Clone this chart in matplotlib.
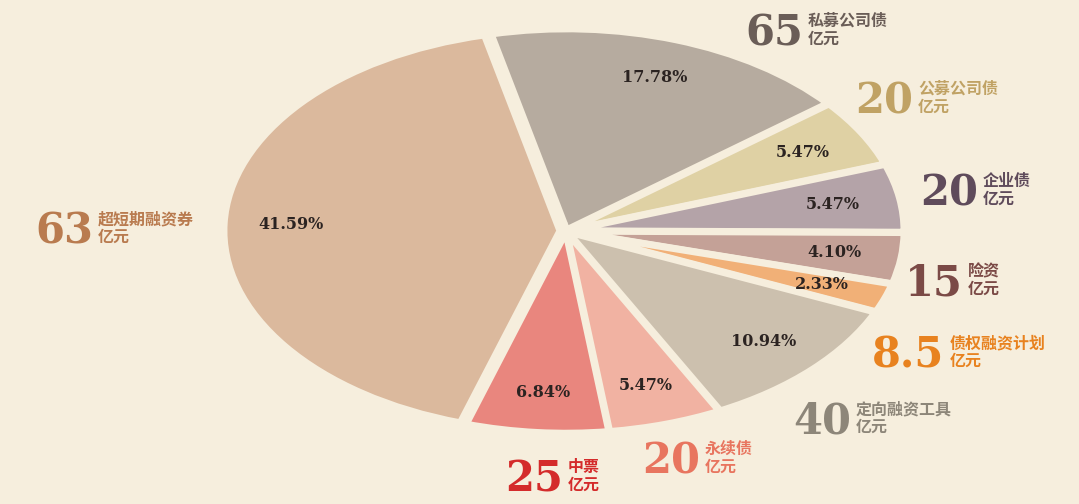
import numpy as np
import matplotlib.pyplot as plt

# slice shares (%) clockwise from the top, and the labels printed next to them
names = ["私募公司债", "公募公司债", "企业债", "险资", "债权融资计划",
         "定向融资工具", "永续债", "中票", "超短期融资券"]
amounts = ["65", "20", "20", "15", "8.5", "40", "20", "25", "63"]
shares = [17.78, 5.47, 5.47, 4.10, 2.33, 10.94, 5.47, 6.84, 41.59]

slice_colors = ["#b6ab9f", "#dfd1a4", "#b4a3a8", "#c4a197", "#f1b077",
                "#ccc0ae", "#f1b2a2", "#e9867e", "#dbb99d"]
text_colors = ["#6a5d57", "#c0a264", "#5f4b5b", "#7b4a46", "#e8821f",
               "#8d8679", "#e8755f", "#d42b2b", "#b97b4f"]

# where each outside label sits (pixels, left of the big number / top of it)
label_pos = [(745, 12), (855, 80), (920, 172), (905, 262), (872, 334),
             (793, 400), (642, 440), (505, 458), (35, 210)]

bg = "#f6eedd"
W, H = 1079, 504
cx, cy, rx, ry = 566, 231, 336, 201

fig = plt.figure(figsize=(W / 100, H / 100), dpi=100, facecolor=bg)
ax = fig.add_axes([0, 0, 1, 1])
ax.set_facecolor(bg)

explode = [0.006] * 8 + [0.018]
wedges, _, autotexts = ax.pie(
    shares, colors=slice_colors, startangle=103, counterclock=False,
    explode=explode, autopct="%.2f%%", pctdistance=0.8,
    wedgeprops=dict(linewidth=5, edgecolor=bg),
    textprops=dict(family="DejaVu Serif", weight="bold", size=11.5, color="#2b2321"))

ax.set_aspect("auto")
ax.set_xlim(-cx / rx, (W - cx) / rx)
ax.set_ylim(-(H - cy) / ry, cy / ry)
ax.axis("off")

for name, amt, col, (px, py) in zip(names, amounts, text_colors, label_pos):
    t = fig.text(px / W, 1 - py / H, amt, ha="left", va="top",
                 family="DejaVu Serif", weight="bold", size=30, color=col)
    fig.canvas.draw()
    bb = t.get_window_extent()
    x2 = bb.x1 + 5
    fig.text(x2 / W, 1 - (py + 1) / H, name, ha="left", va="top",
             family=["Noto Sans CJK SC", "DejaVu Sans"], weight="bold",
             size=11.5, color=col)
    fig.text(x2 / W, 1 - (py + 19) / H, "亿元", ha="left", va="top",
             family=["Noto Sans CJK SC", "DejaVu Sans"], weight="bold",
             size=11.5, color=col)

fig.savefig("out.png", dpi=100, facecolor=bg)
